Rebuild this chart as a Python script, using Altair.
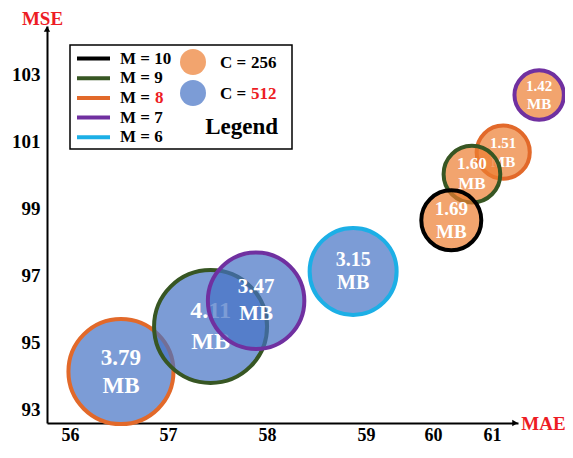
import altair as alt
import pandas as pd

# ---------------- data ----------------
# drawing order: large (C=512) bubbles first, then small (C=256) ones
MAE = [56.52, 57.43, 57.89, 58.87, 61.80, 61.19, 60.66, 60.31]
MSE = [94.12, 95.47, 96.24, 97.12, 102.40, 100.69, 100.03, 98.65]
MODEL_MB = [3.79, 4.11, 3.47, 3.15, 1.42, 1.51, 1.60, 1.69]
M_VAL = [8, 9, 7, 6, 7, 8, 9, 10]
C_VAL = [512, 512, 512, 512, 256, 256, 256, 256]

X_TICKS = [56, 57, 58, 59, 60, 61]
Y_TICKS = [93, 95, 97, 99, 101, 103]

LEGEND_M = [10, 9, 8, 7, 6]
LEGEND_C = [256, 512]

# ---------------- styles ----------------
FONT = "Liberation Serif"
RED = "#ED1C24"
M_COLORS = ["#000000", "#375623", "#E2692A", "#7030A0", "#1CAFE6"]
C_COLORS = ["#ED7D31", "#4472C4"]
LABEL_FONT = [23, 24, 21, 20, 15, 15, 17, 19]
LABEL_LH = [28, 31, 27, 23, 18, 19, 20, 23]

df = pd.DataFrame({"id": list(range(len(MAE))), "mae": MAE, "mse": MSE,
                   "mb": MODEL_MB, "m": M_VAL, "c": C_VAL})
df["label"] = df["mb"].map(lambda v: f"{v:.2f}\nMB")

W, H = 471, 397

x_scale = alt.Scale(domain=[55.765, 56, 57, 58, 59, 60, 61, 61.441],
                    range=[0, 23, 121, 220, 319, 386, 445, W], nice=False, zero=False)
y_scale = alt.Scale(domain=[92.581, 104.467], nice=False, zero=False)

x_axis = alt.Axis(values=X_TICKS, ticks=False, grid=False, domainColor="black", domainWidth=2,
                  labelFont=FONT, labelFontWeight="bold", labelFontSize=18, labelColor="black",
                  labelPadding=17, labelBaseline="alphabetic", labelFlush=False,
                  labelOverlap=False,
                  title="MAE", titleColor=RED, titleFont=FONT, titleFontWeight="bold",
                  titleFontSize=19, titleX=496, titleY=0, titleAlign="center",
                  titleBaseline="middle", titleAngle=0)
y_axis = alt.Axis(values=Y_TICKS, ticks=False, grid=False, domainColor="black", domainWidth=2,
                  labelFont=FONT, labelFontWeight="bold", labelFontSize=19, labelColor="black",
                  labelPadding=7, labelFlush=False, labelOverlap=False,
                  title="MSE", titleColor=RED, titleFont=FONT, titleFontWeight="bold",
                  titleFontSize=19, titleX=-5, titleY=-8, titleAlign="center",
                  titleBaseline="middle", titleAngle=0)

x_enc = alt.X("mae:Q", scale=x_scale, axis=x_axis)
y_enc = alt.Y("mse:Q", scale=y_scale, axis=y_axis)
size_enc = alt.Size("mb:Q", legend=None,
                    scale=alt.Scale(domain=[1.42, 1.69, 3.15, 4.11],
                                    range=[2440, 3600, 7569, 12769], zero=False, nice=False))
fill_enc = alt.Fill("c:N", legend=None, scale=alt.Scale(domain=LEGEND_C, range=C_COLORS))
stroke_enc = alt.Stroke("m:N", legend=None, scale=alt.Scale(domain=LEGEND_M, range=M_COLORS))

layers = []
for i in range(len(MAE)):
    sub = alt.Chart(df).transform_filter(alt.datum.id == i)
    layers.append(sub.mark_point(shape="circle", filled=True, opacity=1, fillOpacity=0.7,
                                 strokeOpacity=1, strokeWidth=4).encode(
        x=x_enc, y=y_enc, size=size_enc, fill=fill_enc, stroke=stroke_enc))
    layers.append(sub.mark_text(font=FONT, fontWeight="bold", fontSize=LABEL_FONT[i],
                                lineHeight=LABEL_LH[i], lineBreak="\n", color="white",
                                align="center", baseline="middle",
                                dy=-LABEL_LH[i] / 2).encode(
        x=x_enc, y=y_enc, text="label:N"))

dummy = pd.DataFrame({"k": [0]})

# axis arrow heads
layers.append(alt.Chart(dummy).mark_point(shape="triangle-right", filled=True, color="black",
                                          opacity=1, size=40).encode(
    x=alt.value(W - 3), y=alt.value(H)))
layers.append(alt.Chart(dummy).mark_point(shape="triangle-up", filled=True, color="black",
                                          opacity=1, size=40).encode(
    x=alt.value(0), y=alt.value(3)))

# custom legend (pixel positions inside the plot area)
layers.append(alt.Chart(dummy).mark_rect(fill="white", stroke="black", strokeWidth=1.5).encode(
    x=alt.value(23), x2=alt.value(245), y=alt.value(19), y2=alt.value(123)))
for j, m in enumerate(LEGEND_M):
    py = 32.5 + 19.7 * j
    layers.append(alt.Chart(dummy).mark_rule(strokeWidth=4, color=M_COLORS[j]).encode(
        x=alt.value(30), x2=alt.value(63), y=alt.value(py)))
    if m == 8:
        layers.append(alt.Chart(dummy).mark_text(text="M =", font=FONT, fontWeight="bold",
                                                 fontSize=17, color="black", align="left",
                                                 baseline="middle").encode(
            x=alt.value(73), y=alt.value(py)))
        layers.append(alt.Chart(dummy).mark_text(text=str(m), font=FONT, fontWeight="bold",
                                                 fontSize=17, color=RED, align="left",
                                                 baseline="middle").encode(
            x=alt.value(108), y=alt.value(py)))
    else:
        layers.append(alt.Chart(dummy).mark_text(text=f"M = {m}", font=FONT, fontWeight="bold",
                                                 fontSize=17, color="black", align="left",
                                                 baseline="middle").encode(
            x=alt.value(73), y=alt.value(py)))
for j, c in enumerate(LEGEND_C):
    py = 36 + 31 * j
    layers.append(alt.Chart(dummy).mark_point(shape="circle", filled=True, opacity=1,
                                              fillOpacity=0.7, strokeWidth=0, size=676,
                                              color=C_COLORS[j]).encode(
        x=alt.value(146), y=alt.value(py)))
    layers.append(alt.Chart(dummy).mark_text(text="C =", font=FONT, fontWeight="bold",
                                             fontSize=17, color="black", align="left",
                                             baseline="middle").encode(
        x=alt.value(173), y=alt.value(py + 1)))
    layers.append(alt.Chart(dummy).mark_text(text=str(c), font=FONT, fontWeight="bold",
                                             fontSize=17, color=("black" if c == 256 else RED),
                                             align="left", baseline="middle").encode(
        x=alt.value(204), y=alt.value(py + 1)))
layers.append(alt.Chart(dummy).mark_text(text="Legend", font=FONT, fontWeight="bold",
                                         fontSize=23, color="black", align="right",
                                         baseline="middle").encode(
    x=alt.value(231), y=alt.value(101)))

chart = alt.layer(*layers).properties(
    width=W, height=H,
    autosize=alt.AutoSizeParams(type="none"),
    padding={"left": 39, "top": 18, "right": 47, "bottom": 21},
    background="white",
).configure_view(stroke=None)

chart.save("out.html", embed_options={"renderer": "svg", "actions": False})
